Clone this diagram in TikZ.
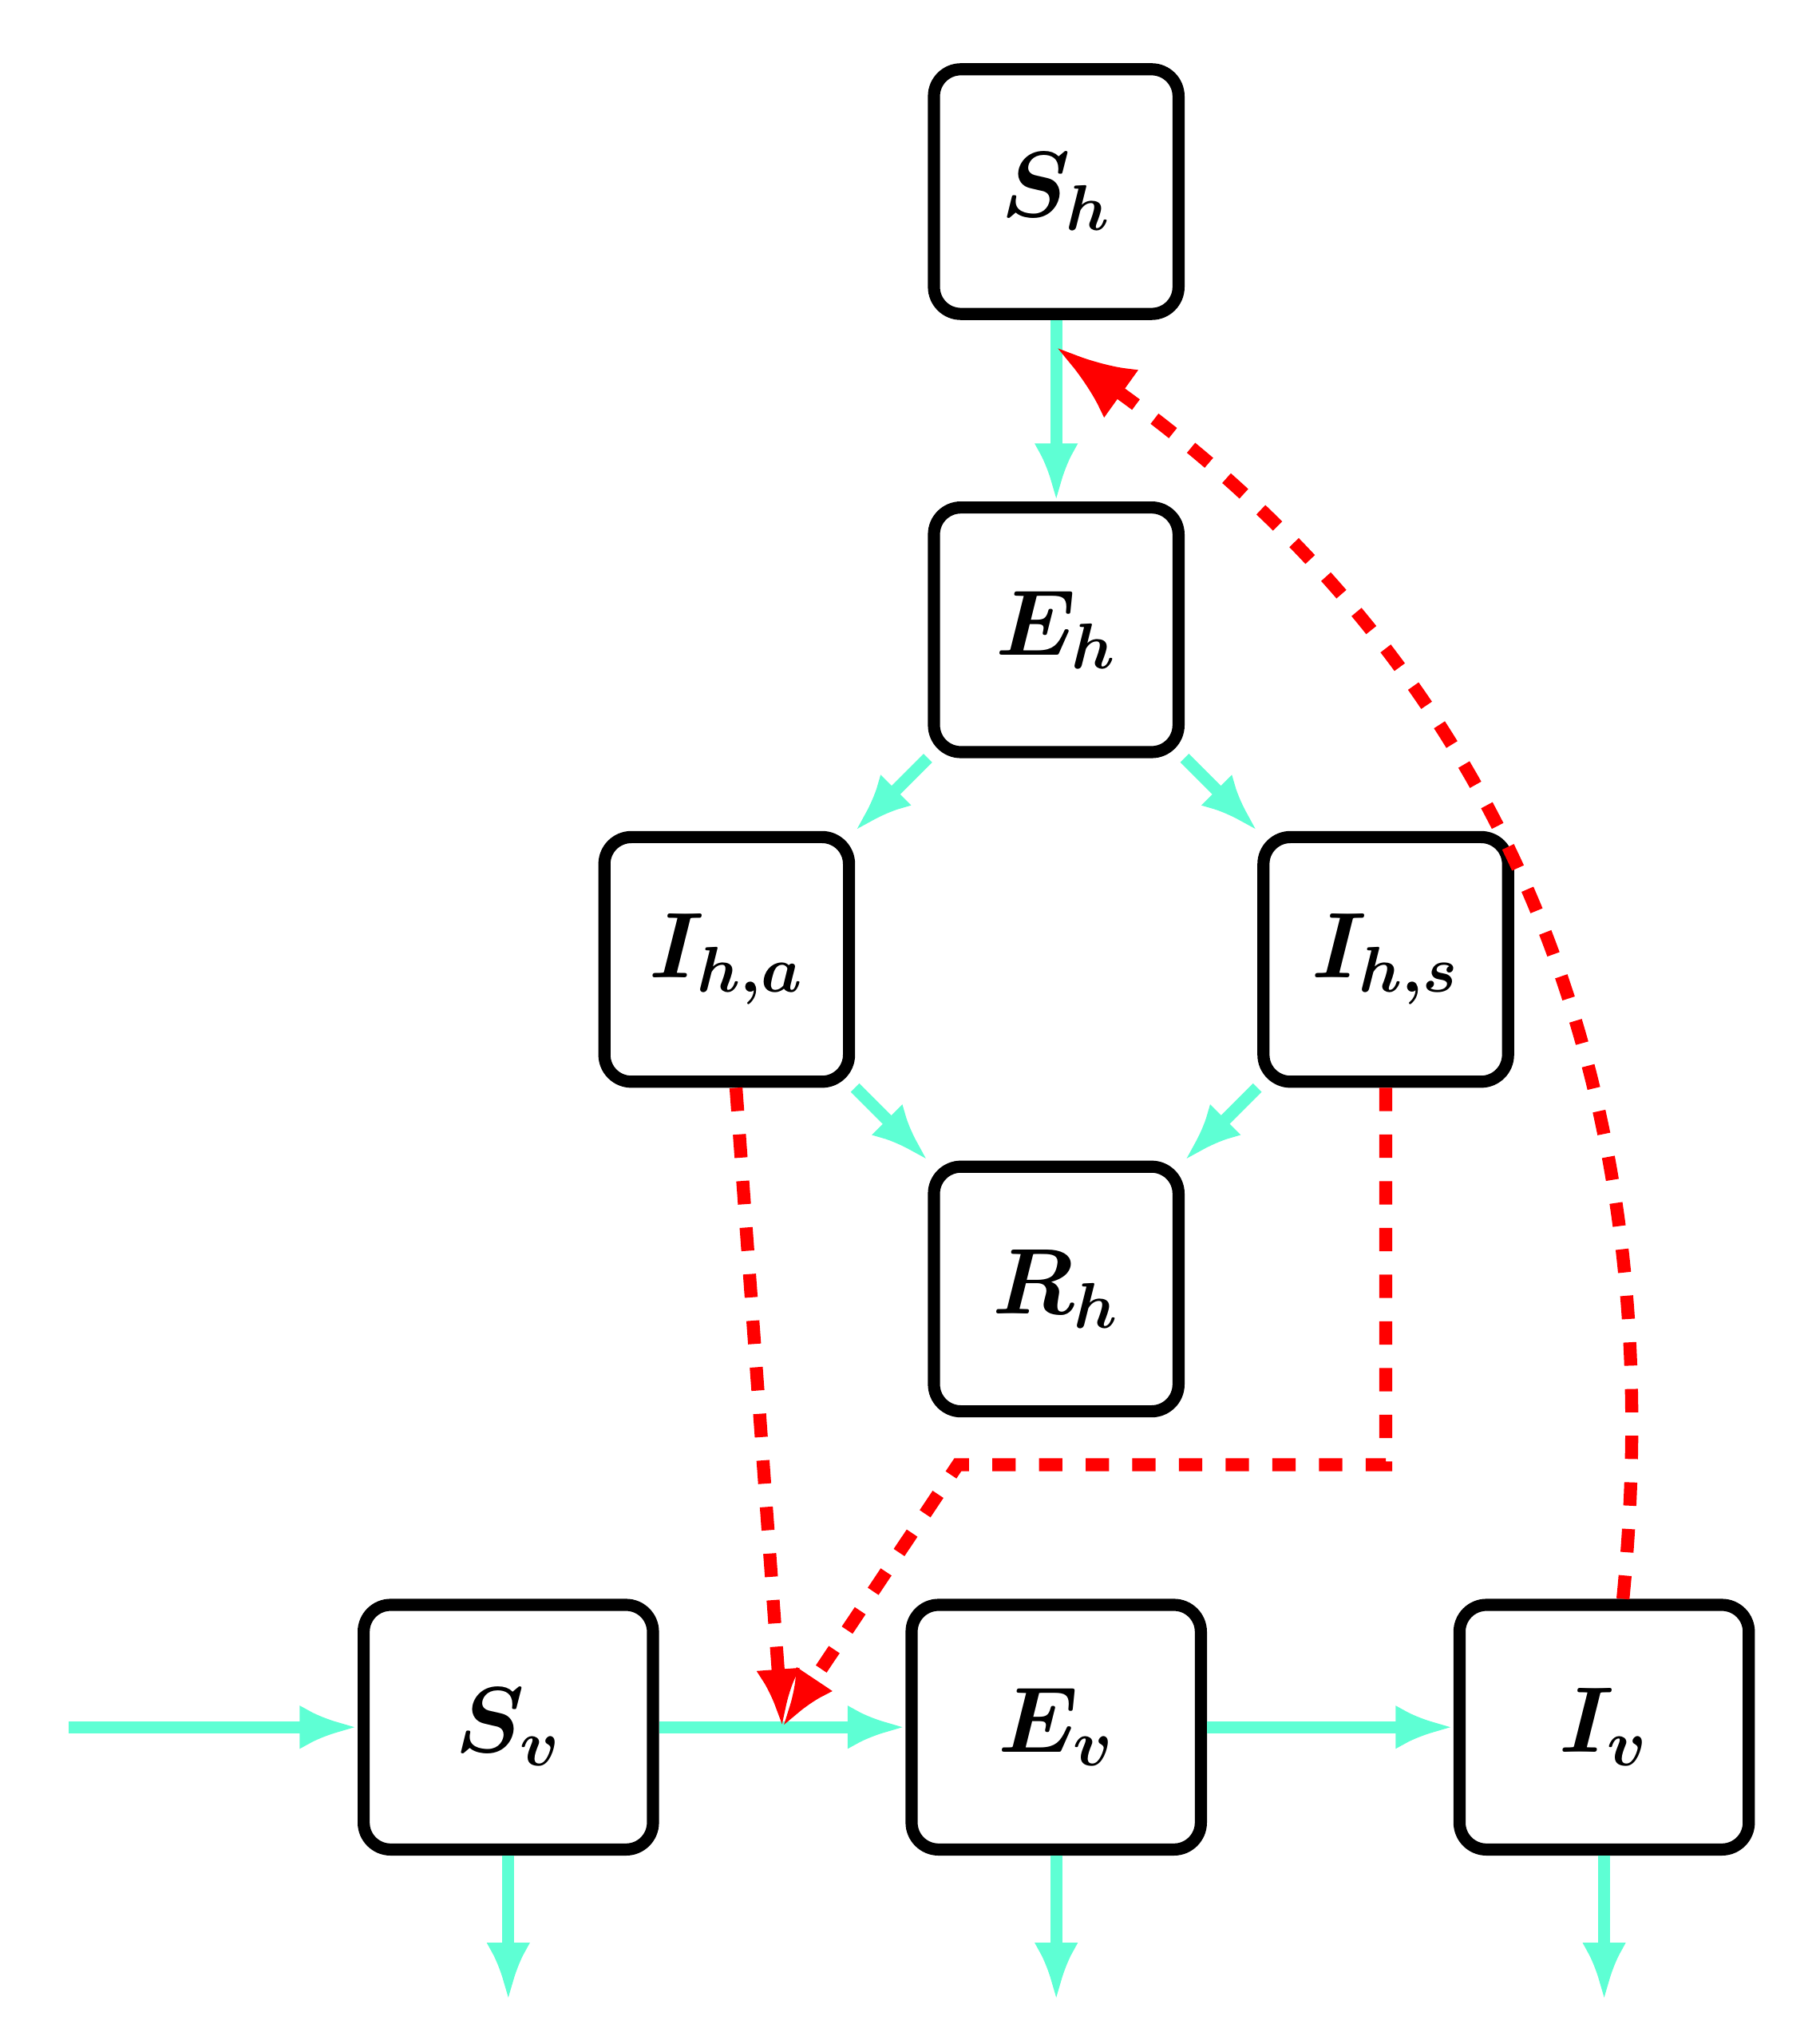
\documentclass[tikz,border=0pt]{standalone}
\usetikzlibrary{arrows.meta,positioning,calc}
\definecolor{aqua}{RGB}{94,255,212}
\tikzset{
    box/.style =    {rectangle,
                    rounded corners=6pt,
                    fill=white,
                    draw=black,
                    text=black,
                    line width=2.7pt,
                    minimum width=1.915cm,
                    minimum height=1.915cm,
                    font=\huge\boldmath},
    wide/.style =   {box,
                    minimum width=2.265cm},
    flow/.style =   {color=aqua,
                    line width=2.7pt,
                    ->},
    vector/.style = {color=red,
                    line width=2.9pt,
                    dash pattern=on 5.2pt off 5.2pt,
                    ->},
    >={Latex[length=12.9pt,width=9.8pt]},
    on grid,
    node distance=3.43cm and 4.29cm}

\begin{document}
\begin{tikzpicture}
                    \useasboundingbox (-8.27,1.5) rectangle (5.974,-14.5);
                    \node[box]       (Sh) []                                 {$S_h$};
                    \node[box]       (Eh) [below=of Sh]                      {$E_h$};
                    \node[box]       (Iha) [below left=2.58cm and 2.58cm of Eh]  {$I_{h,a}$};
                    \node[box]       (Ihs) [below right=2.58cm and 2.58cm of Eh] {$I_{h,s}$};
                    \node[box]       (Rh) [below right=2.58cm and 2.58cm of Iha] {$R_h$};
                    \node[wide]      (Ev) [below=of Rh]                      {$E_v$};
                    \node[wide]      (Sv) [left=of Ev]                       {$S_v$};
                    \node[wide]      (Iv) [right=of Ev]                      {$I_v$};
                    % free ends
                    \coordinate      (in) at ($(Sv)+(-3.44,0)$);
                    \coordinate      (Svout) at ($(Sv)+(0,-2.14)$);
                    \coordinate      (Evout) at ($(Ev)+(0,-2.14)$);
                    \coordinate      (Ivout) at ($(Iv)+(0,-2.14)$);
                    \coordinate      (mid) at ($(Sv.east)!0.5!(Ev.west)$);
                    \coordinate      (hit) at ($(Sh.south)!0.15!(Eh.north)$);
                    \coordinate      (kink) at ($(Rh.south)+(-0.77,-0.37)$);
                    \path [flow]    (Sh) edge (Eh)
                                    (Eh) edge (Iha)
                                    (Eh) edge (Ihs)
                                    (Iha) edge (Rh)
                                    (Ihs) edge (Rh)
                                    (in) edge (Sv)
                                    (Sv) edge (Ev)
                                    (Ev) edge (Iv)
                                    (Sv) edge (Svout)
                                    (Ev) edge (Evout)
                                    (Iv) edge (Ivout);
                    \draw [vector]  (Iha) -- (mid);
                    \draw [vector]  (Ihs) |- (kink) -- (mid);
                    \draw [vector, -{Latex[length=17.8pt,width=13.2pt]}]
                                    (Iv) to [bend right=30] (hit);
        \end{tikzpicture}
\end{document}
